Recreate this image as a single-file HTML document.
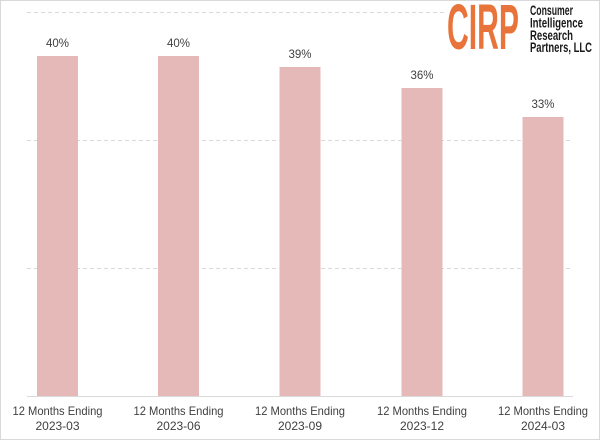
<!DOCTYPE html>
<html>
<head>
<meta charset="utf-8">
<style>
html,body{margin:0;padding:0;background:#fff;}
svg{display:block;}
text{font-family:"Liberation Sans",sans-serif;}
</style>
</head>
<body>
<svg width="600" height="440" viewBox="0 0 600 440" xmlns="http://www.w3.org/2000/svg">
  <rect x="0.5" y="0.5" width="599" height="439" fill="#fff" stroke="#d9d9d9" stroke-width="1"/>
  <!-- gridlines -->
  <g stroke="#d9d9d9" stroke-width="1" stroke-dasharray="4,3">
    <line x1="27" y1="12.5" x2="573" y2="12.5"/>
    <line x1="27" y1="140.5" x2="573" y2="140.5"/>
    <line x1="27" y1="268.5" x2="573" y2="268.5"/>
  </g>
  <!-- bars -->
  <g fill="#e6b9b9">
    <rect x="37" y="56" width="41" height="340"/>
    <rect x="158" y="56" width="41" height="340"/>
    <rect x="279.5" y="67" width="41" height="329"/>
    <rect x="401.5" y="88" width="41" height="308"/>
    <rect x="522.5" y="117" width="41" height="279"/>
  </g>
  <!-- axis line -->
  <line x1="27" y1="396.5" x2="573" y2="396.5" stroke="#d9d9d9" stroke-width="1"/>
  <!-- value labels -->
  <g fill="#404040" font-size="11.5" text-anchor="middle">
    <text x="57.5" y="47">40%</text>
    <text x="178.5" y="47">40%</text>
    <text x="300" y="58">39%</text>
    <text x="422" y="79">36%</text>
    <text x="543" y="108">33%</text>
  </g>
  <!-- category labels -->
  <g fill="#404040" font-size="12" text-anchor="middle">
    <text x="57.5" y="415" textLength="90" lengthAdjust="spacingAndGlyphs">12 Months Ending</text>
    <text x="57.5" y="430">2023-03</text>
    <text x="178.5" y="415" textLength="90" lengthAdjust="spacingAndGlyphs">12 Months Ending</text>
    <text x="178.5" y="430">2023-06</text>
    <text x="300" y="415" textLength="90" lengthAdjust="spacingAndGlyphs">12 Months Ending</text>
    <text x="300" y="430">2023-09</text>
    <text x="422" y="415" textLength="90" lengthAdjust="spacingAndGlyphs">12 Months Ending</text>
    <text x="422" y="430">2023-12</text>
    <text x="543" y="415" textLength="90" lengthAdjust="spacingAndGlyphs">12 Months Ending</text>
    <text x="543" y="430">2024-03</text>
  </g>
  <!-- logo -->
  <rect x="444" y="1" width="155" height="55" fill="#fff"/>
  <text x="447" y="49" font-family="Liberation Serif, serif" font-weight="bold" font-size="64" fill="#e8743b" textLength="72" lengthAdjust="spacingAndGlyphs">CIRP</text>
  <g fill="#1a1a1a" font-weight="bold" font-size="13.5">
    <text x="530" y="15" textLength="43" lengthAdjust="spacingAndGlyphs">Consumer</text>
    <text x="530" y="27.5" textLength="53" lengthAdjust="spacingAndGlyphs">Intelligence</text>
    <text x="530" y="40" textLength="43" lengthAdjust="spacingAndGlyphs">Research</text>
    <text x="530" y="52" textLength="62" lengthAdjust="spacingAndGlyphs">Partners, LLC</text>
  </g>
</svg>
</body>
</html>
